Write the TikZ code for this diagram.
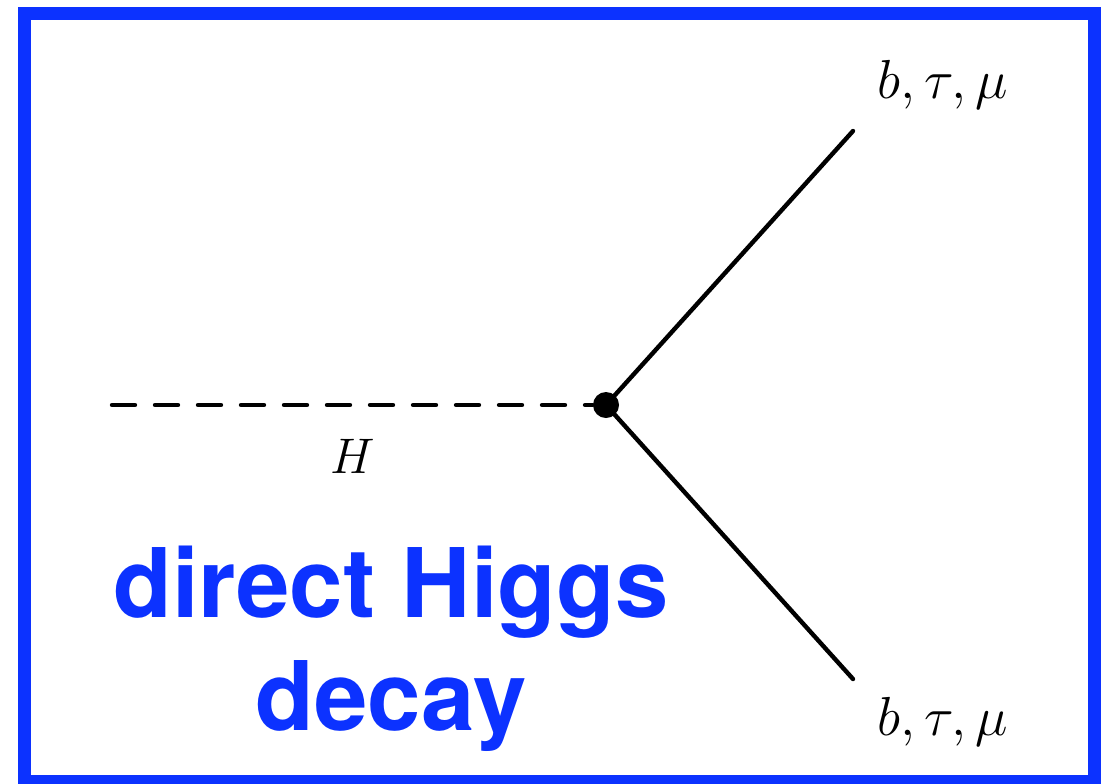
\RequirePackage{fix-cm}
\documentclass[tikz,border=0pt]{standalone}
\usepackage{fontspec}
\newfontfamily\heros{TeX Gyre Heros}
\definecolor{frameblue}{RGB}{12,50,255}
\tikzset{
  fermion/.style={draw=black,line width=2.2pt},
  scalar/.style={draw=black,line width=2.2pt,line cap=round,dash pattern=on 11.5pt off 10pt},
  vertexdot/.style={circle,fill=black,inner sep=0pt,minimum size=13pt},
  partlabel/.style={inner sep=0pt,outer sep=0pt,anchor=base,font=\fontsize{27.5}{32}\selectfont},
}
\begin{document}
\begin{tikzpicture}[x=.5pt,y=-.5pt]
\path[use as bounding box] (0,0) rectangle (1112,783);
\path[fill=white,draw=frameblue,line width=6.5pt] (24.5,13) rectangle (1094,781);
\coordinate (hin) at (112,405);
\node[vertexdot] (vtx) at (606,405) {};
\coordinate (fup) at (853,131);
\coordinate (fdown) at (853,679);
\draw[scalar] (hin) -- (vtx.west);
\draw[fermion,line cap=round] (vtx.center) -- (fup);
\draw[fermion,line cap=round] (vtx.center) -- (fdown);
\node[partlabel,font=\fontsize{25}{30}\selectfont] (hlabel) at (353,473) {$H$};
\node[partlabel] (uplabel) at (943,98) {$b,\tau,\mu$};
\node[partlabel] (downlabel) at (943,735) {$b,\tau,\mu$};
\node[inner sep=0pt,outer sep=0pt,anchor=base,text=frameblue,font=\heros\bfseries\fontsize{48}{56.5}\selectfont] (title1) at (391,617) {direct Higgs};
\node[inner sep=0pt,outer sep=0pt,anchor=base,text=frameblue,font=\heros\bfseries\fontsize{48}{56.5}\selectfont] (title2) at (391,730) {decay};
\end{tikzpicture}
\end{document}
